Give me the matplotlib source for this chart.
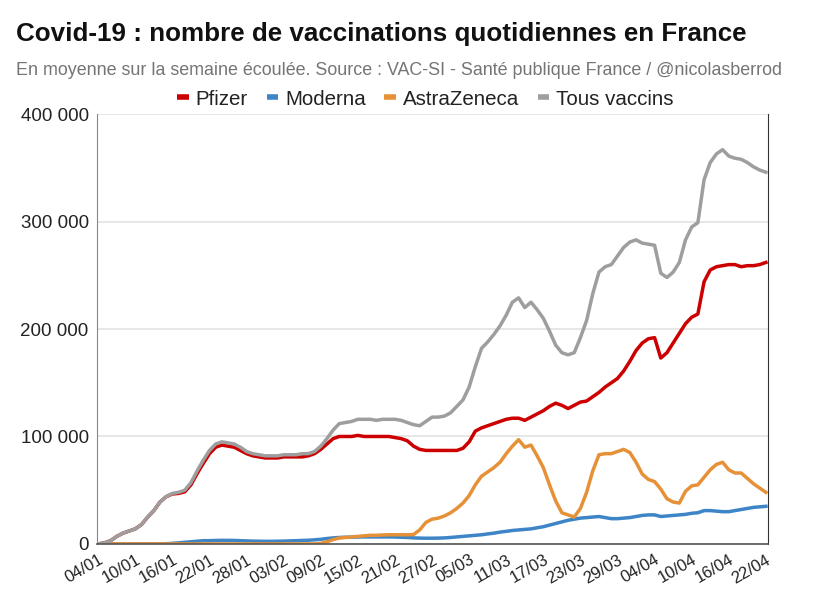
import numpy as np
import matplotlib
matplotlib.use('Agg')
import matplotlib.pyplot as plt
from matplotlib.lines import Line2D

# data : moyenne sur 7 jours, du 04/01 au 22/04 (valeurs en milliers)
pfizer = [0, 1, 3, 7, 10, 12, 14, 18, 25, 31, 39, 44, 46.5, 47, 48.5, 55, 65.5, 75,
          84, 90, 92, 91, 90, 87, 84, 82, 81, 80, 80, 80, 81, 81, 81, 81, 82, 84,
          88, 93, 98, 100, 100, 100, 101, 100, 100, 100, 100, 100, 99, 98, 96, 91, 88, 87,
          87, 87, 87, 87, 87, 89, 95, 105, 108, 110, 112, 114, 116, 117, 117, 115, 118, 121,
          124, 128, 131, 129, 126, 129, 132, 133, 137, 141, 146, 150, 154, 161, 170, 180, 187, 191,
          192, 173, 178, 187, 196, 205, 211, 214, 244, 255, 258, 259, 260, 260, 258, 259, 259, 260,
          262]
moderna = [0, 0, 0, 0, 0, 0, 0, 0, 0, 0, 0, 0.2, 0.5, 1, 1.5, 2, 2.5, 3,
           3, 3.2, 3.3, 3.3, 3.2, 3, 2.8, 2.6, 2.5, 2.4, 2.4, 2.5, 2.6, 2.8, 3, 3.2, 3.4, 3.8,
           4.3, 5, 5.6, 6, 6.2, 6.3, 6.4, 6.5, 6.5, 6.5, 6.5, 6.5, 6.4, 6.2, 6, 5.6, 5.4, 5.3,
           5.3, 5.4, 5.6, 6, 6.5, 7, 7.5, 8, 8.5, 9.3, 10, 11, 11.7, 12.5, 13, 13.5, 14, 15,
           16, 17.5, 19, 20.5, 22, 23, 24, 24.5, 25, 25.5, 24.5, 23.5, 23.5, 24, 24.5, 25.5, 26.5, 27,
           27, 25.5, 26, 26.5, 27, 27.5, 28.5, 29, 31, 31, 30.5, 30, 30, 31, 32, 33, 34, 34.5,
           35]
astrazeneca = [0] * 36 + [0.5, 2, 4, 5.5, 6, 6.5, 7, 7.5, 8, 8, 8.3, 8.5, 8.5, 8.5, 8.5, 8.7, 13, 20,
               23, 24, 26, 29, 33, 38, 45, 55, 63, 67, 71, 76, 84, 91, 97, 90, 92, 82,
               71, 55, 40, 29, 27, 25, 33, 48, 68, 83, 84, 84, 86, 88, 85, 76, 65, 60,
               58, 51, 42, 39, 38, 49, 54, 55, 62, 69, 74, 76, 69, 66, 66, 61, 56, 52,
               48]
tous = [0, 1, 3, 7, 10, 12, 14, 18, 25, 31, 39, 44, 47, 48, 50, 57, 68, 78,
        87, 93, 95, 94, 93, 90, 86, 84, 83, 82, 82, 82, 83, 83, 83, 84, 84, 86,
        91, 98, 106, 112, 113, 114, 116, 116, 116, 115, 116, 116, 116, 115, 113, 111, 110, 114,
        118, 118, 119, 122, 128, 134, 146, 165, 182, 188, 195, 203, 213, 225, 229, 220, 225, 218,
        210, 198, 185, 178, 176, 178, 192, 208, 233, 253, 258, 260, 268, 276, 281, 283, 280, 279,
        278, 252, 248, 253, 262, 283, 295, 299, 339, 355, 363, 367, 361, 359, 358, 355, 351, 348,
        346]
xlabels = ['04/01', '10/01', '16/01', '22/01', '28/01', '03/02', '09/02', '15/02', '21/02', '27/02',
           '05/03', '11/03', '17/03', '23/03', '29/03', '04/04', '10/04', '16/04', '22/04']

series = [('Pfizer', pfizer, '#cc0000'),
          ('Moderna', moderna, '#3d85c6'),
          ('AstraZeneca', astrazeneca, '#e69138'),
          ('Tous vaccins', tous, '#9e9e9e')]

plt.rcParams['font.family'] = ['Liberation Sans', 'DejaVu Sans']

fig = plt.figure(figsize=(8.15, 6.01), dpi=100)
ax = fig.add_axes([0.119, 0.095, 0.823, 0.715])

x = np.arange(len(pfizer))
for name, vals, col in series:
    ax.plot(x, np.array(vals) * 1000, color=col, lw=2.5, solid_joinstyle='round', label=name)

ax.set_xlim(-0.2, 108.3)
ax.set_ylim(0, 400000)
ax.set_yticks([0, 100000, 200000, 300000, 400000])
ax.set_yticklabels(['0', '100 000', '200 000', '300 000', '400 000'], fontsize=13.5, color='#222222')
ax.set_xticks(x[::6])
ax.set_xticklabels(xlabels, rotation=30, ha='right', rotation_mode='anchor', fontsize=12, color='#222222')
ax.tick_params(length=0, pad=6)
ax.grid(axis='y', color='#e3e3e3', lw=1.2)
ax.set_axisbelow(True)
ax.spines['top'].set_visible(False)
ax.spines['left'].set_color('#888888')
ax.spines['right'].set_color('#333333')
ax.spines['bottom'].set_color('#555555')
ax.spines['bottom'].set_linewidth(1.2)

# titre et sous-titre
fig.text(0.02, 0.943, 'Covid-19 : nombre de vaccinations quotidiennes en France',
         fontsize=18.7, fontweight='bold', color='#111111', va='center')
fig.text(0.02, 0.883, 'En moyenne sur la semaine écoulée. Source : VAC-SI - Santé publique France / @nicolasberrod',
         fontsize=12.9, color='#757575', va='center')

handles = [Line2D([], [], color=c, lw=4, solid_capstyle='butt') for _, _, c in series]
fig.legend(handles, [s[0] for s in series], loc='center', bbox_to_anchor=(0.522, 0.835), ncol=4,
           frameon=False, fontsize=14.8, handletextpad=0.35, columnspacing=0.9, handlelength=0.55,
           labelcolor='#222222')

fig.savefig('out.png', dpi=100)
